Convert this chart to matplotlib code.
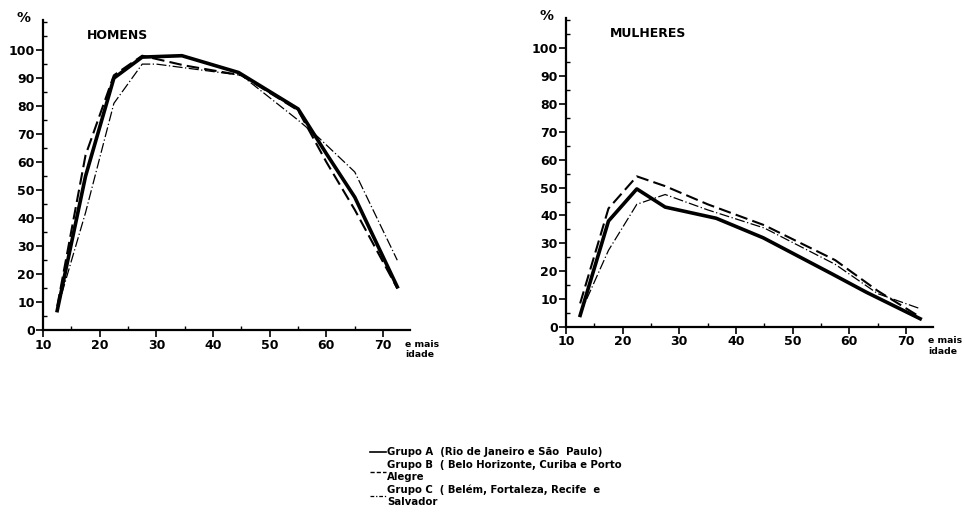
import matplotlib
matplotlib.use('Agg')
import matplotlib.pyplot as plt
from matplotlib.ticker import MultipleLocator

plt.rcParams['font.family'] = ['DejaVu Sans']

# age group midpoints and participation rates (%)
idade_a = [12.5, 17.5, 22.5, 27.5, 34.5, 44.5, 55, 60, 65, 72.5]
homens_a = [7, 55, 90, 97.5, 98, 92, 79, 63, 47.5, 15.5]
idade_b = [12.5, 17.5, 22.5, 27.5, 35, 45, 55, 60, 65, 72.5]
homens_b = [8.5, 62.5, 91, 98, 94.5, 91, 78.5, 60, 43, 15]
idade_c = [12.5, 17.5, 22.5, 27.5, 30, 45, 55, 58.5, 65, 72.5]
homens_c = [7.5, 42, 81, 95, 95, 91, 75, 69, 56.5, 25]

midade_a = [12.5, 17.5, 22.5, 27.5, 36.5, 44.8, 57, 63, 72.5]
mulheres_a = [4.2, 38, 49.5, 43, 39, 32, 19, 12.5, 3]
midade_b = [12.5, 17.5, 22.5, 27.5, 35, 45, 57.5, 65, 72.5]
mulheres_b = [8.5, 42.5, 54, 50.5, 44, 36.5, 24, 13, 3.6]
midade_c = [12.5, 17.5, 22.5, 27.5, 35, 45, 57.5, 65, 72.5]
mulheres_c = [4.8, 27.5, 44, 47.5, 42, 35.5, 22.5, 12, 6.6]

legenda = ['Grupo A  (Rio de Janeiro e São  Paulo)',
           'Grupo B  ( Belo Horizonte, Curiba e Porto\nAlegre',
           'Grupo C  ( Belém, Fortaleza, Recife  e\nSalvador']

fig = plt.figure(figsize=(9.65, 5.16), dpi=100)
ax1 = fig.add_axes([0.0446, 0.360, 0.380, 0.601])
ax2 = fig.add_axes([0.5865, 0.366, 0.380, 0.599])

estilos = [dict(color='black', lw=2.6, ls='-'),
           dict(color='black', lw=1.5, ls=(0, (6, 2.5))),
           dict(color='black', lw=0.9, ls=(0, (8, 2, 1, 2)))]

def painel(ax, titulo, series):
    for (x, y), st in zip(series, estilos):
        ax.plot(x, y, solid_joinstyle='round', **st)
    ax.set_xlim(10, 74.7)
    ax.set_ylim(0, 110.7)
    for s in ['top', 'right']:
        ax.spines[s].set_visible(False)
    ax.spines['left'].set_linewidth(1.6)
    ax.spines['bottom'].set_linewidth(1.6)
    ax.xaxis.set_minor_locator(MultipleLocator(5))
    ax.yaxis.set_minor_locator(MultipleLocator(5))
    ax.set_xticks(range(10, 71, 10))
    ax.set_yticks(range(0, 101, 10))
    ax.tick_params(which='major', direction='out', length=5, width=1.2,
                   labelsize=9, pad=1)
    ax.tick_params(which='minor', direction='in', length=3, width=1.0)
    for lab in ax.get_xticklabels() + ax.get_yticklabels():
        lab.set_fontweight('bold')
    ax.text(0.12, 0.97, titulo, transform=ax.transAxes, fontsize=9,
            fontweight='bold', va='top', ha='left')
    ax.text(-0.035, 1.03, '%', transform=ax.transAxes, fontsize=10,
            fontweight='bold', ha='right', va='top')
    ax.text(0.988, -0.03, 'e mais\nidade', transform=ax.transAxes, fontsize=6.7,
            fontweight='bold', ha='left', va='top', linespacing=1.25)

painel(ax1, 'HOMENS', [(idade_a, homens_a), (idade_b, homens_b), (idade_c, homens_c)])
painel(ax2, 'MULHERES', [(midade_a, mulheres_a), (midade_b, mulheres_b), (midade_c, mulheres_c)])

handles = [plt.Line2D([], [], **st) for st in estilos]
handles[0].set_linewidth(1.2)
handles[1].set_linewidth(1.0)
handles[1].set_linestyle((0, (3, 1.5)))
handles[2].set_linestyle((0, (3, 1.5, 1, 1.5)))
fig.legend(handles, legenda, loc='upper left', bbox_to_anchor=(0.378, 0.143),
           frameon=False, handlelength=1.6, handletextpad=0.1,
           labelspacing=0.3, borderpad=0, prop={'weight': 'bold', 'size': 7.3})

fig.savefig('out.png', dpi=100)
